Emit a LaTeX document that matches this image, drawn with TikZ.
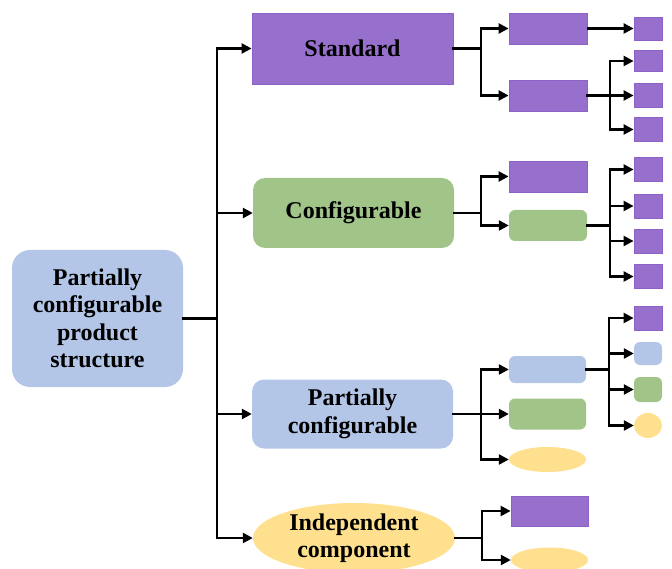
\documentclass[tikz,border=0pt]{standalone}
\usepackage{fontspec}
\setmainfont{Liberation Serif}
\usetikzlibrary{arrows.meta,shapes.geometric}

\definecolor{purp}{RGB}{150,112,204}
\definecolor{purpline}{RGB}{140,98,200}
\definecolor{grn}{RGB}{161,196,137}
\definecolor{blu}{RGB}{180,198,231}
\definecolor{yel}{RGB}{255,224,142}

\tikzset{
  x=1pt, y=-1pt,
  lbl/.style={font=\bfseries\fontsize{24}{27.5}\selectfont, align=center, text=black},
  sz/.style n args={2}{minimum width=#1pt, minimum height=#2pt},
  pbox/.style={rectangle, fill=purp, draw=purpline, line width=0.8pt, inner sep=0pt},
  gbox/.style={rectangle, fill=grn, rounded corners=#1, inner sep=0pt},
  gbox/.default=6pt,
  bbox/.style={rectangle, fill=blu, rounded corners=#1, inner sep=0pt},
  bbox/.default=6pt,
  ybox/.style={ellipse, fill=yel, inner sep=0pt},
  wire/.style={line width=2.4pt, line cap=rect},
  conn/.style={line width=2.4pt, -{Triangle[length=10pt,width=10pt]}},
}

\begin{document}
\begin{tikzpicture}
\useasboundingbox (0,0) rectangle (672,569);

% root
\node[bbox=18pt, sz={171}{137}, lbl] (root) at (97.5,318.5)
  {Partially\\configurable\\product\\structure};

% first level
\node[pbox, sz={201}{71}, lbl] (std) at (352.5,48.5) {Standard};
\node[gbox=12pt, sz={201}{70}, lbl] (cfg) at (353.5,213) {Configurable};
\node[bbox=12pt, sz={201}{69}, lbl] (pcf) at (352.5,414) {Partially\\configurable};
\node[ybox, sz={202}{70}, lbl] (ind) at (354,538) {Independent\\component};

% trunk
\coordinate (t0) at (217,318.5);
\draw[wire] (root.east) -- (t0);
\draw[conn] (t0) |- (std.west);
\draw[conn] (t0) |- (cfg.west);
\draw[conn] (t0) |- (pcf.west);
\draw[conn] (t0) |- (ind.west);

% --- Standard branch
\node[pbox, sz={78}{31}] (s1) at (548,28.5) {};
\node[pbox, sz={78}{31}] (s2) at (548,95.5) {};
\coordinate (s0) at (481,48.5);
\draw[wire] (std.east) -- (s0);
\draw[conn] (s0) |- (s1.west);
\draw[conn] (s0) |- (s2.west);

\node[pbox, sz={28}{23}] (s11) at (648,28.5) {};
\draw[conn] (s1.east) -- (s11.west);

\node[pbox, sz={28}{21}] (s21) at (648,61) {};
\node[pbox, sz={28}{24}] (s22) at (648,95.5) {};
\node[pbox, sz={28}{24}] (s23) at (648,129.5) {};
\coordinate (s2b) at (610,95.5);
\draw[wire] (s2.east) -- (s2b);
\draw[conn] (s2b) |- (s21.west);
\draw[conn] (s2b) |- (s22.west);
\draw[conn] (s2b) |- (s23.west);

% --- Configurable branch
\node[pbox, sz={78}{31}] (c1) at (548,176.5) {};
\node[gbox, sz={78}{31}] (c2) at (548,225.5) {};
\coordinate (c0) at (481,213);
\draw[wire] (cfg.east) -- (c0);
\draw[conn] (c0) |- (c1.west);
\draw[conn] (c0) |- (c2.west);

\node[pbox, sz={28}{24}] (c21) at (648,169.5) {};
\node[pbox, sz={28}{24}] (c22) at (648,206) {};
\node[pbox, sz={28}{24}] (c23) at (648,241) {};
\node[pbox, sz={28}{24}] (c24) at (648,276.5) {};
\coordinate (c2b) at (610,225.5);
\draw[wire] (c2.east) -- (c2b);
\draw[conn] (c2b) |- (c21.west);
\draw[conn] (c2b) |- (c22.west);
\draw[conn] (c2b) |- (c23.west);
\draw[conn] (c2b) |- (c24.west);

% --- Partially configurable branch
\node[bbox, sz={77}{27}] (p1) at (547.5,369.5) {};
\node[gbox, sz={77}{31}] (p2) at (547.5,414) {};
\node[ybox, sz={77}{25}] (p3) at (547.5,459.5) {};
\coordinate (p0) at (481,414);
\draw[wire] (pcf.east) -- (p0);
\draw[conn] (p0) |- (p1.west);
\draw[conn] (p0) |- (p2.west);
\draw[conn] (p0) |- (p3.west);

\node[pbox, sz={28}{24}] (p11) at (648,318) {};
\node[bbox, sz={28}{23}] (p12) at (648,353.5) {};
\node[gbox, sz={28}{25}] (p13) at (648,389.5) {};
\node[ybox, sz={28}{25}] (p14) at (648,425.5) {};
\coordinate (p1b) at (609,369.5);
\draw[wire] (p1.east) -- (p1b);
\draw[conn] (p1b) |- (p11.west);
\draw[conn] (p1b) |- (p12.west);
\draw[conn] (p1b) |- (p13.west);
\draw[conn] (p1b) |- (p14.west);

% --- Independent component branch
\node[pbox, sz={77}{30}] (i1) at (549.5,511) {};
\node[ybox, sz={77}{25}] (i2) at (549.5,560) {};
\coordinate (i0) at (482,538);
\draw[wire] (ind.east) -- (i0);
\draw[conn] (i0) |- (i1.west);
\draw[conn] (i0) |- (i2.west);
\end{tikzpicture}
\end{document}
